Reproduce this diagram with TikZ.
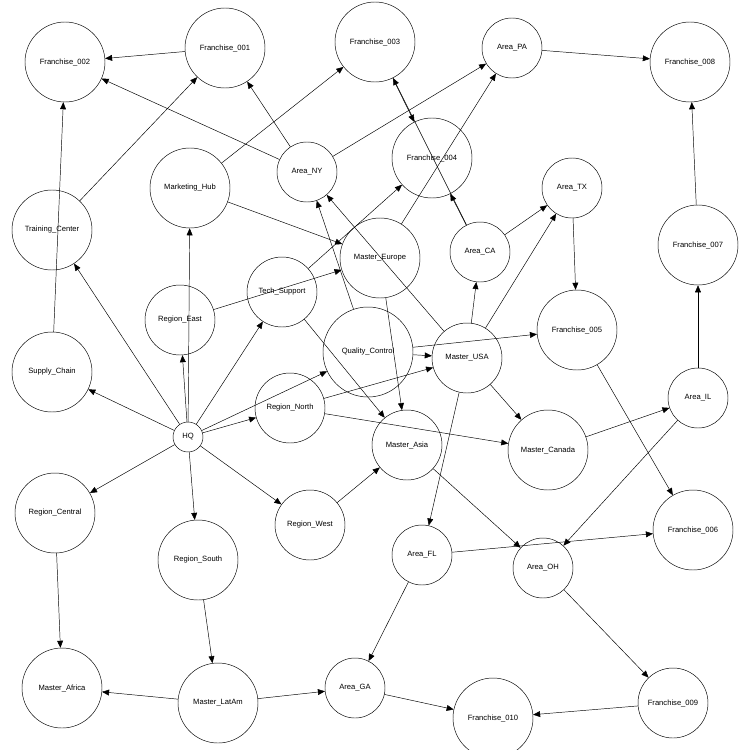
\documentclass[tikz,border=0pt]{standalone}
\usepackage{fontspec}
\setmainfont{Liberation Sans}
\usetikzlibrary{arrows.meta}

\begin{document}
\begin{tikzpicture}[x=0.03cm,y=-0.03cm,->,>={Triangle[length=6pt,width=5pt]},thin,
                    every node/.style={circle,draw,inner sep=0pt,font=\fontsize{6.5}{7}\selectfont},
                    big/.style={minimum size=2.4cm},
                    mid/.style={minimum size=2.1cm},
                    small/.style={minimum size=1.8cm},
                    tiny/.style={minimum size=0.9cm},
                ]
  \useasboundingbox (0,0) rectangle (750,750);

  \node[big]   (f002) at (65,62)   {Franchise\_002};
  \node[big]   (f001) at (225,48)  {Franchise\_001};
  \node[big]   (f003) at (375,42)  {Franchise\_003};
  \node[small] (pa)   at (512,48)  {Area\_PA};
  \node[big]   (f008) at (690,62)  {Franchise\_008};
  \node[small] (ny)   at (307,172) {Area\_NY};
  \node[big]   (f004) at (432,158) {Franchise\_004};
  \node[small] (tx)   at (572,188) {Area\_TX};
  \node[big]   (mkt)  at (190,188) {Marketing\_Hub};
  \node[big]   (trn)  at (52,230)  {Training\_Center};
  \node[big]   (f007) at (698,245) {Franchise\_007};
  \node[big]   (eu)   at (380,258) {Master\_Europe};
  \node[small] (ca)   at (480,252) {Area\_CA};
  \node[mid]   (tech) at (282,292) {Tech\_Support};
  \node[mid]   (east) at (180,320) {Region\_East};
  \node[big]   (sup)  at (52,372)  {Supply\_Chain};
  \node[minimum size=2.7cm] (qc) at (368,352) {Quality\_Control};
  \node[mid]   (usa)  at (467,358) {Master\_USA};
  \node[big]   (f005) at (577,330) {Franchise\_005};
  \node[mid]   (north) at (290,408) {Region\_North};
  \node[tiny]  (hq)   at (188,437) {HQ};
  \node[small] (il)   at (698,398) {Area\_IL};
  \node[mid]   (asia) at (407,445) {Master\_Asia};
  \node[big]   (can)  at (548,450) {Master\_Canada};
  \node[big]   (cen)  at (55,513)  {Region\_Central};
  \node[mid]   (west) at (310,525) {Region\_West};
  \node[big]   (south) at (198,560) {Region\_South};
  \node[small] (fl)   at (422,555) {Area\_FL};
  \node[small] (oh)   at (543,568) {Area\_OH};
  \node[big]   (f006) at (693,530) {Franchise\_006};
  \node[big]   (afr)  at (62,688)  {Master\_Africa};
  \node[big]   (lat)  at (218,703) {Master\_LatAm};
  \node[small] (ga)   at (355,688) {Area\_GA};
  \node[big]   (f010) at (493,718) {Franchise\_010};
  \node[mid]   (f009) at (673,703) {Franchise\_009};

  \foreach \a/\b in {f001/f002, ny/f002, ny/f001, ny/pa, pa/f008, f007/f008,
                     trn/f001, sup/f002, mkt/f003, mkt/eu, f003/f004, ca/f004, ca/f003,
                     eu/pa, tech/f004, tech/asia, east/eu,
                     hq/east, hq/mkt, hq/tech, hq/trn, hq/sup, hq/cen, hq/south, hq/west, hq/north, hq/qc,
                     qc/ny, qc/usa, qc/f005, usa/ny, usa/ca, usa/tx, usa/can, usa/fl,
                     ca/tx, tx/f005, eu/asia, north/usa, north/can, west/asia, asia/oh,
                     f005/f006, can/il, il/f007, il/oh, fl/f006, fl/ga, oh/f009,
                     f009/f010, ga/f010, lat/ga, lat/afr, south/lat, cen/afr}
    \draw (\a) -- (\b);
\end{tikzpicture}
\end{document}
